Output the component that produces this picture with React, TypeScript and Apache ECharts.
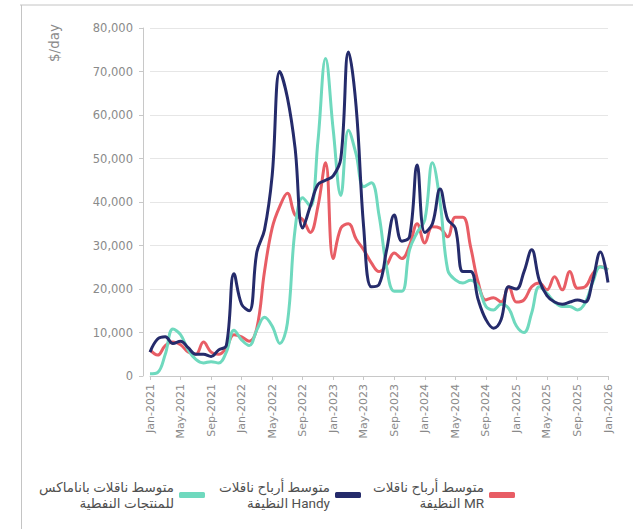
import { useEffect, useRef } from "react";
import * as echarts from "echarts";

const MONTH_NAMES = ["Jan", "Feb", "Mar", "Apr", "May", "Jun", "Jul", "Aug", "Sep", "Oct", "Nov", "Dec"];
const categories: string[] = [];
for (let y = 2021; y <= 2026; y++) {
  for (const m of MONTH_NAMES) {
    if (y === 2026 && m !== "Jan") break;
    categories.push(`${m}-${y}`);
  }
}

// متوسط أرباح ناقلات MR النظيفة
const mrValues = [
  6000, 4800, 7000, 7800, 7200, 5500, 5000, 7800, 5500, 5000, 6500, 9500,
  9000, 8000, 11000, 24000, 34000, 39000, 42000, 37000, 36000, 33000, 39000, 49000,
  27000, 34000, 35000, 31500, 29000, 26000, 24000, 25500, 28300, 27000, 30000, 35000,
  30600, 34300, 34000, 32000, 36500, 36500, 29700, 21500, 17500, 18000, 17000, 20500,
  17000, 17500, 20500, 21400, 19800, 22800, 19800, 24000, 20200, 20500, 23500, 25100,
  24400,
];

// متوسط أرباح ناقلات Handy النظيفة
const handyValues = [
  5500, 8500, 9000, 7500, 8000, 6500, 5000, 5000, 4500, 6000, 7000, 23500,
  16500, 15000, 28500, 33600, 46000, 70000, 64000, 52500, 34000, 39000, 44000, 45000,
  46000, 50000, 74500, 62000, 34000, 20500, 21000, 29000, 37000, 31000, 32000, 48500,
  33000, 35000, 43000, 36000, 34000, 24000, 24000, 17500, 13000, 11000, 13000, 20500,
  20000, 24000, 29000, 22000, 18500, 17000, 16500, 17000, 17500, 17000, 22000, 28500,
  21500,
];

// متوسط ناقلات باناماكس للمنتجات النفطية
const panamaxValues = [
  500, 800, 5000, 10800, 9500, 6000, 3800, 3000, 3300, 3000, 5500, 10500,
  8300, 7000, 10600, 13500, 11500, 7500, 12200, 33600, 41000, 39000, 54000, 73000,
  56600, 41500, 56500, 51000, 43500, 44400, 37000, 25000, 19500, 19500, 29000, 33000,
  35900, 49000, 40000, 24400, 22100, 21400, 22000, 20500, 16000, 15200, 16500, 15500,
  11500, 10000, 14500, 20500, 19000, 17000, 16000, 16000, 15200, 16800, 21500, 25100,
  24400,
];

const seriesNames = ["MR", "Handy", "Panamax"];
const legendLabels: Record<string, string> = {
  MR: "متوسط أرباح ناقلات\nالنظيفة MR",
  Handy: "متوسط أرباح ناقلات\nالنظيفة Handy",
  Panamax: "متوسط ناقلات باناماكس\nللمنتجات النفطية",
};
const colors: Record<string, string> = {
  MR: "#e85d65",
  Handy: "#252b6b",
  Panamax: "#6fd9be",
};
const yAxisTitle = "$/day";

export default function App() {
  const ref = useRef<HTMLDivElement>(null);
  useEffect(() => {
    if (!ref.current) return;
    const chart = echarts.init(ref.current, undefined, { renderer: "svg" });
    const axisFont = "'DejaVu Sans', sans-serif";
    const legendCommon = {
      orient: "horizontal" as const,
      top: 479,
      padding: 0,
      align: "right" as const,
      itemWidth: 26,
      itemHeight: 6,
      icon: "roundRect",
      formatter: (name: string) => legendLabels[name],
      textStyle: {
        fontSize: 13.5,
        color: "#505050",
        lineHeight: 16,
        fontFamily: "Roboto, 'DejaVu Sans', sans-serif",
      },
    };
    const mkSeries = (name: string, data: number[]) => ({
      name,
      type: "line",
      data,
      smooth: 0.4,
      symbol: "none",
      lineStyle: { width: 3, color: colors[name] },
      itemStyle: { color: colors[name] },
    });
    chart.setOption({
      animation: false,
      backgroundColor: "#ffffff",
      grid: { left: 150, right: 25, top: 28, bottom: 153, containLabel: false },
      legend: [
        { ...legendCommon, right: 118, data: [seriesNames[0]] },
        { ...legendCommon, right: 272, data: [seriesNames[1]] },
        { ...legendCommon, right: 428, data: [seriesNames[2]] },
      ],
      xAxis: {
        type: "category",
        boundaryGap: false,
        data: categories,
        axisLine: { show: true, lineStyle: { color: "#c8c8c8", width: 1 } },
        axisTick: { show: true, interval: 3, length: 4, lineStyle: { color: "#c8c8c8" } },
        axisLabel: {
          interval: 3,
          rotate: 90,
          margin: 8,
          fontSize: 11,
          color: "#8a8a8a",
          fontFamily: axisFont,
        },
        splitLine: { show: false },
      },
      yAxis: {
        type: "value",
        min: 0,
        max: 80000,
        interval: 10000,
        offset: 7,
        axisLine: { show: true, lineStyle: { color: "#c8c8c8", width: 1 } },
        axisTick: { show: true, length: 4, lineStyle: { color: "#c8c8c8" } },
        axisLabel: {
          margin: 10,
          fontSize: 11.5,
          color: "#8a8a8a",
          fontFamily: axisFont,
          formatter: (v: number) => v.toLocaleString("en-US"),
        },
        splitLine: { show: true, lineStyle: { color: "#e6e6e6", width: 1 } },
      },
      graphic: [
        { type: "line", shape: { x1: 20, y1: 5, x2: 633, y2: 5 }, style: { stroke: "#c4c4c4", lineWidth: 1 } },
        { type: "line", shape: { x1: 21.5, y1: 5, x2: 21.5, y2: 529 }, style: { stroke: "#c4c4c4", lineWidth: 1 } },
        {
          type: "text",
          x: 54,
          y: 62,
          rotation: Math.PI / 2,
          style: {
            text: yAxisTitle,
            fontSize: 13.5,
            fill: "#8a8a8a",
            fontFamily: axisFont,
            textAlign: "left",
            textVerticalAlign: "middle",
          },
        },
      ],
      series: [
        mkSeries("MR", mrValues),
        mkSeries("Panamax", panamaxValues),
        mkSeries("Handy", handyValues),
      ],
    });
    return () => chart.dispose();
  }, []);
  return (
    <div
      ref={ref}
      style={{ position: "fixed", left: 0, top: 0, width: 633, height: 529, background: "#fff" }}
    />
  );
}
